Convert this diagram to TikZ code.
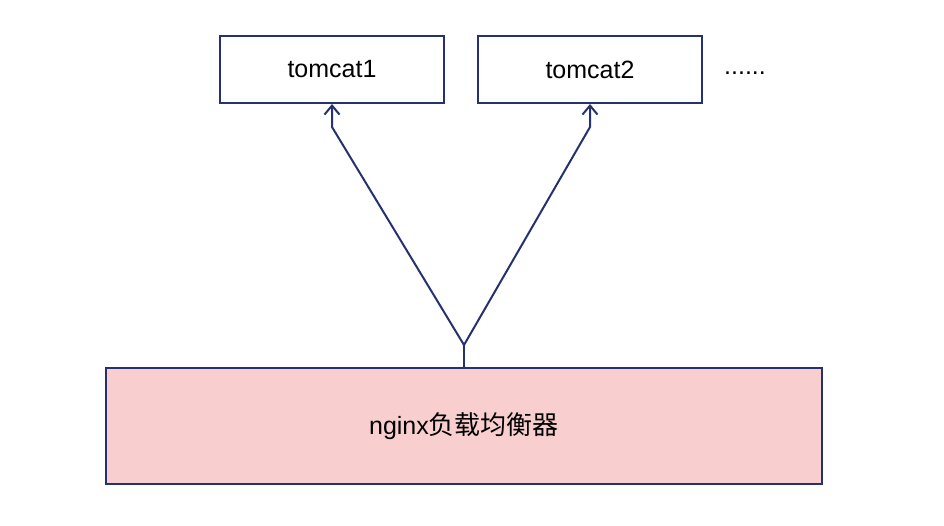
\documentclass[tikz,border=0pt]{standalone}
\usepackage{fontspec}
\setmainfont{Liberation Sans}
\newfontfamily\cjk{Noto Sans CJK SC}
\usetikzlibrary{arrows.meta,positioning}

\definecolor{navy}{RGB}{38,49,112}
\definecolor{pinkfill}{RGB}{248,206,206}

\tikzset{
  serverbox/.style={draw=navy, line width=2pt, fill=white,
    minimum width=224, minimum height=67, font=\fontsize{25}{28}\selectfont},
  lbbox/.style={draw=navy, line width=2pt, fill=pinkfill,
    minimum width=716, minimum height=116, font=\fontsize{25}{28}\selectfont},
  link/.style={draw=navy, line width=2pt, line join=miter,
    -{Straight Barb[length=9pt, width=15pt, line width=2pt]}},
}

\begin{document}
\begin{tikzpicture}[x=1pt, y=-1pt]
\useasboundingbox (0,0) rectangle (944,526);

% ----------------------------
% NODES
% ----------------------------
\node[serverbox] (tc1) at (332,69.5) {tomcat1};
\node[serverbox] (tc2) at (590,69.5) {tomcat2};
\node[font=\fontsize{25}{28}\selectfont] (more) at (745,73) {......};

\node[lbbox] (nginx) at (464,426) {nginx{\cjk\fontsize{26}{28}\selectfont 负载均衡器}};

% ----------------------------
% CONNECTORS
% ----------------------------
\coordinate (split) at (464,345);
\coordinate (bend1) at (332,127);
\coordinate (bend2) at (590,127);

\draw[navy, line width=2pt] (nginx.north) -- (split);
\draw[link] (split) -- (bend1) -- (tc1.south);
\draw[link] (split) -- (bend2) -- (tc2.south);

\end{tikzpicture}
\end{document}
